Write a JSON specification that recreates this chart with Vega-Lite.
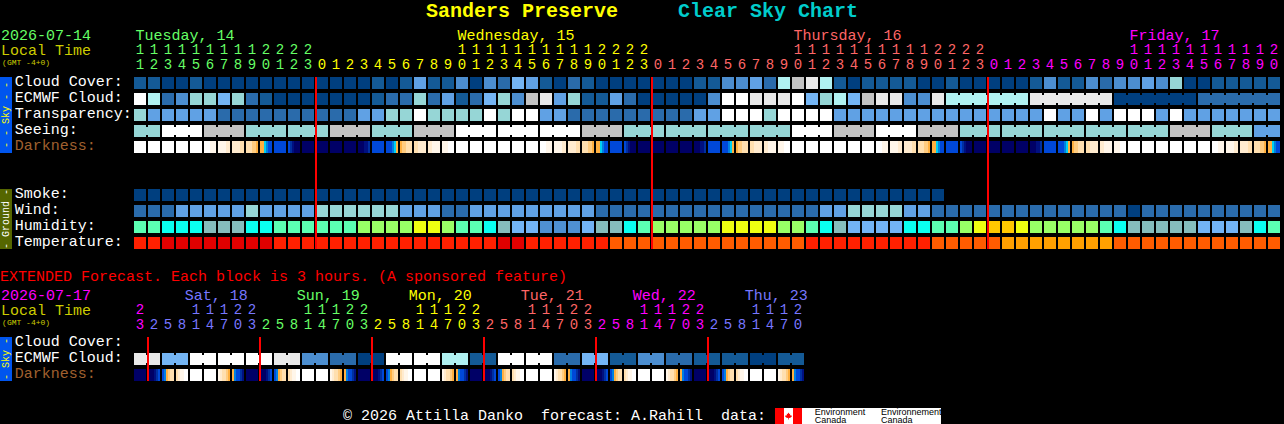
{
"$schema":"https://vega.github.io/schema/vega-lite/v6.json",
"description":"Clear Sky Chart for Sanders Preserve",
"width":1284,"height":424,"padding":0,"autosize":{"type":"none"},"background":"#000000",
"config":{"view":{"stroke":null},"legend":{"disable":true}},
"datasets":{
"hourly":[
{"col":0,"tens":"1","ones":"1","day":14,"cloud":1,"ecmwf":10,"transparency":6,"seeing":6,"smoke":0,"wind":2,"humidity":30,"temperature":41,"darkness":50},
{"col":1,"tens":"1","ones":"2","day":14,"cloud":1,"ecmwf":7,"transparency":4,"seeing":6,"smoke":0,"wind":2,"humidity":30,"temperature":41,"darkness":50},
{"col":2,"tens":"1","ones":"3","day":14,"cloud":0,"ecmwf":2,"transparency":4,"seeing":10,"smoke":0,"wind":2,"humidity":31,"temperature":40,"darkness":50},
{"col":3,"tens":"1","ones":"4","day":14,"cloud":0,"ecmwf":3,"transparency":4,"seeing":10,"smoke":0,"wind":4,"humidity":31,"temperature":40,"darkness":50},
{"col":4,"tens":"1","ones":"5","day":14,"cloud":1,"ecmwf":6,"transparency":4,"seeing":10,"smoke":0,"wind":4,"humidity":31,"temperature":40,"darkness":50},
{"col":5,"tens":"1","ones":"6","day":14,"cloud":0,"ecmwf":6,"transparency":4,"seeing":8,"smoke":0,"wind":4,"humidity":32,"temperature":40,"darkness":50},
{"col":6,"tens":"1","ones":"7","day":14,"cloud":0,"ecmwf":5,"transparency":2,"seeing":8,"smoke":0,"wind":4,"humidity":32,"temperature":40,"darkness":50},
{"col":7,"tens":"1","ones":"8","day":14,"cloud":0,"ecmwf":6,"transparency":2,"seeing":8,"smoke":0,"wind":4,"humidity":32,"temperature":40,"darkness":50},
{"col":8,"tens":"1","ones":"9","day":14,"cloud":0,"ecmwf":2,"transparency":2,"seeing":6,"smoke":0,"wind":6,"humidity":31,"temperature":40,"darkness":50},
{"col":9,"tens":"2","ones":"0","day":14,"cloud":0,"ecmwf":1,"transparency":2,"seeing":6,"smoke":0,"wind":4,"humidity":31,"temperature":40,"darkness":50},
{"col":10,"tens":"2","ones":"1","day":14,"cloud":0,"ecmwf":0,"transparency":2,"seeing":6,"smoke":0,"wind":4,"humidity":30,"temperature":41,"darkness":58},
{"col":11,"tens":"2","ones":"2","day":14,"cloud":0,"ecmwf":0,"transparency":2,"seeing":6,"smoke":0,"wind":4,"humidity":30,"temperature":41,"darkness":61},
{"col":12,"tens":"2","ones":"3","day":14,"cloud":0,"ecmwf":0,"transparency":2,"seeing":6,"smoke":0,"wind":4,"humidity":30,"temperature":41,"darkness":61},
{"col":13,"tens":"","ones":"0","day":15,"cloud":0,"ecmwf":0,"transparency":2,"seeing":6,"smoke":0,"wind":6,"humidity":30,"temperature":41,"darkness":61},
{"col":14,"tens":"","ones":"1","day":15,"cloud":0,"ecmwf":0,"transparency":2,"seeing":8,"smoke":0,"wind":6,"humidity":30,"temperature":41,"darkness":61},
{"col":15,"tens":"","ones":"2","day":15,"cloud":0,"ecmwf":0,"transparency":2,"seeing":8,"smoke":0,"wind":6,"humidity":30,"temperature":41,"darkness":61},
{"col":16,"tens":"","ones":"3","day":15,"cloud":0,"ecmwf":0,"transparency":4,"seeing":8,"smoke":0,"wind":6,"humidity":35,"temperature":41,"darkness":61},
{"col":17,"tens":"","ones":"4","day":15,"cloud":1,"ecmwf":1,"transparency":4,"seeing":6,"smoke":0,"wind":6,"humidity":35,"temperature":41,"darkness":58},
{"col":18,"tens":"","ones":"5","day":15,"cloud":0,"ecmwf":2,"transparency":6,"seeing":6,"smoke":0,"wind":6,"humidity":35,"temperature":41,"darkness":50},
{"col":19,"tens":"","ones":"6","day":15,"cloud":1,"ecmwf":2,"transparency":6,"seeing":6,"smoke":0,"wind":4,"humidity":35,"temperature":41,"darkness":50},
{"col":20,"tens":"","ones":"7","day":15,"cloud":4,"ecmwf":6,"transparency":10,"seeing":8,"smoke":0,"wind":4,"humidity":36,"temperature":41,"darkness":50},
{"col":21,"tens":"","ones":"8","day":15,"cloud":1,"ecmwf":2,"transparency":6,"seeing":8,"smoke":0,"wind":4,"humidity":36,"temperature":41,"darkness":50},
{"col":22,"tens":"","ones":"9","day":15,"cloud":1,"ecmwf":4,"transparency":6,"seeing":8,"smoke":0,"wind":2,"humidity":35,"temperature":41,"darkness":50},
{"col":23,"tens":"1","ones":"0","day":15,"cloud":3,"ecmwf":1,"transparency":6,"seeing":10,"smoke":0,"wind":2,"humidity":30,"temperature":41,"darkness":50},
{"col":24,"tens":"1","ones":"1","day":15,"cloud":0,"ecmwf":2,"transparency":6,"seeing":10,"smoke":0,"wind":4,"humidity":30,"temperature":41,"darkness":50},
{"col":25,"tens":"1","ones":"2","day":15,"cloud":3,"ecmwf":5,"transparency":10,"seeing":10,"smoke":0,"wind":4,"humidity":31,"temperature":41,"darkness":50},
{"col":26,"tens":"1","ones":"3","day":15,"cloud":2,"ecmwf":6,"transparency":6,"seeing":10,"smoke":0,"wind":4,"humidity":32,"temperature":40,"darkness":50},
{"col":27,"tens":"1","ones":"4","day":15,"cloud":5,"ecmwf":3,"transparency":10,"seeing":10,"smoke":0,"wind":4,"humidity":33,"temperature":40,"darkness":50},
{"col":28,"tens":"1","ones":"5","day":15,"cloud":4,"ecmwf":8,"transparency":10,"seeing":10,"smoke":0,"wind":4,"humidity":33,"temperature":41,"darkness":50},
{"col":29,"tens":"1","ones":"6","day":15,"cloud":1,"ecmwf":9,"transparency":4,"seeing":10,"smoke":0,"wind":4,"humidity":34,"temperature":41,"darkness":50},
{"col":30,"tens":"1","ones":"7","day":15,"cloud":0,"ecmwf":4,"transparency":4,"seeing":10,"smoke":0,"wind":4,"humidity":34,"temperature":41,"darkness":50},
{"col":31,"tens":"1","ones":"8","day":15,"cloud":2,"ecmwf":6,"transparency":2,"seeing":10,"smoke":0,"wind":4,"humidity":34,"temperature":41,"darkness":50},
{"col":32,"tens":"1","ones":"9","day":15,"cloud":1,"ecmwf":1,"transparency":2,"seeing":8,"smoke":0,"wind":4,"humidity":33,"temperature":41,"darkness":50},
{"col":33,"tens":"2","ones":"0","day":15,"cloud":0,"ecmwf":1,"transparency":2,"seeing":8,"smoke":0,"wind":2,"humidity":32,"temperature":41,"darkness":50},
{"col":34,"tens":"2","ones":"1","day":15,"cloud":0,"ecmwf":4,"transparency":2,"seeing":8,"smoke":0,"wind":2,"humidity":32,"temperature":42,"darkness":58},
{"col":35,"tens":"2","ones":"2","day":15,"cloud":0,"ecmwf":2,"transparency":2,"seeing":6,"smoke":0,"wind":2,"humidity":31,"temperature":42,"darkness":61},
{"col":36,"tens":"2","ones":"3","day":15,"cloud":0,"ecmwf":0,"transparency":2,"seeing":6,"smoke":0,"wind":2,"humidity":30,"temperature":42,"darkness":61},
{"col":37,"tens":"","ones":"0","day":16,"cloud":0,"ecmwf":0,"transparency":2,"seeing":6,"smoke":0,"wind":2,"humidity":35,"temperature":42,"darkness":61},
{"col":38,"tens":"","ones":"1","day":16,"cloud":0,"ecmwf":0,"transparency":2,"seeing":6,"smoke":0,"wind":2,"humidity":35,"temperature":42,"darkness":61},
{"col":39,"tens":"","ones":"2","day":16,"cloud":0,"ecmwf":0,"transparency":2,"seeing":6,"smoke":0,"wind":2,"humidity":35,"temperature":42,"darkness":61},
{"col":40,"tens":"","ones":"3","day":16,"cloud":1,"ecmwf":0,"transparency":4,"seeing":6,"smoke":0,"wind":2,"humidity":35,"temperature":42,"darkness":61},
{"col":41,"tens":"","ones":"4","day":16,"cloud":1,"ecmwf":3,"transparency":4,"seeing":6,"smoke":0,"wind":2,"humidity":35,"temperature":42,"darkness":58},
{"col":42,"tens":"","ones":"5","day":16,"cloud":3,"ecmwf":10,"transparency":10,"seeing":6,"smoke":0,"wind":2,"humidity":36,"temperature":42,"darkness":50},
{"col":43,"tens":"","ones":"6","day":16,"cloud":3,"ecmwf":10,"transparency":10,"seeing":6,"smoke":0,"wind":2,"humidity":36,"temperature":42,"darkness":50},
{"col":44,"tens":"","ones":"7","day":16,"cloud":4,"ecmwf":9,"transparency":10,"seeing":6,"smoke":0,"wind":2,"humidity":36,"temperature":42,"darkness":50},
{"col":45,"tens":"","ones":"8","day":16,"cloud":2,"ecmwf":9,"transparency":6,"seeing":6,"smoke":0,"wind":2,"humidity":36,"temperature":42,"darkness":50},
{"col":46,"tens":"","ones":"9","day":16,"cloud":7,"ecmwf":9,"transparency":10,"seeing":6,"smoke":0,"wind":2,"humidity":35,"temperature":42,"darkness":50},
{"col":47,"tens":"1","ones":"0","day":16,"cloud":8,"ecmwf":10,"transparency":10,"seeing":10,"smoke":0,"wind":2,"humidity":35,"temperature":42,"darkness":50},
{"col":48,"tens":"1","ones":"1","day":16,"cloud":9,"ecmwf":5,"transparency":10,"seeing":10,"smoke":0,"wind":2,"humidity":30,"temperature":41,"darkness":50},
{"col":49,"tens":"1","ones":"2","day":16,"cloud":7,"ecmwf":6,"transparency":10,"seeing":10,"smoke":0,"wind":4,"humidity":31,"temperature":41,"darkness":50},
{"col":50,"tens":"1","ones":"3","day":16,"cloud":1,"ecmwf":7,"transparency":4,"seeing":8,"smoke":0,"wind":4,"humidity":32,"temperature":41,"darkness":50},
{"col":51,"tens":"1","ones":"4","day":16,"cloud":0,"ecmwf":5,"transparency":4,"seeing":8,"smoke":0,"wind":6,"humidity":33,"temperature":41,"darkness":50},
{"col":52,"tens":"1","ones":"5","day":16,"cloud":1,"ecmwf":8,"transparency":4,"seeing":8,"smoke":0,"wind":6,"humidity":33,"temperature":41,"darkness":50},
{"col":53,"tens":"1","ones":"6","day":16,"cloud":1,"ecmwf":9,"transparency":4,"seeing":10,"smoke":0,"wind":6,"humidity":33,"temperature":41,"darkness":50},
{"col":54,"tens":"1","ones":"7","day":16,"cloud":1,"ecmwf":9,"transparency":4,"seeing":10,"smoke":0,"wind":6,"humidity":33,"temperature":41,"darkness":50},
{"col":55,"tens":"1","ones":"8","day":16,"cloud":1,"ecmwf":3,"transparency":4,"seeing":10,"smoke":0,"wind":4,"humidity":31,"temperature":41,"darkness":50},
{"col":56,"tens":"1","ones":"9","day":16,"cloud":0,"ecmwf":3,"transparency":4,"seeing":8,"smoke":0,"wind":4,"humidity":31,"temperature":41,"darkness":50},
{"col":57,"tens":"2","ones":"0","day":16,"cloud":0,"ecmwf":9,"transparency":4,"seeing":8,"smoke":0,"wind":2,"humidity":30,"temperature":42,"darkness":50},
{"col":58,"tens":"2","ones":"1","day":16,"cloud":1,"ecmwf":7,"transparency":4,"seeing":8,"wind":2,"humidity":30,"temperature":42,"darkness":58},
{"col":59,"tens":"2","ones":"2","day":16,"cloud":0,"ecmwf":7,"transparency":4,"seeing":6,"wind":2,"humidity":35,"temperature":42,"darkness":61},
{"col":60,"tens":"2","ones":"3","day":16,"cloud":0,"ecmwf":7,"transparency":4,"seeing":6,"wind":2,"humidity":36,"temperature":42,"darkness":61},
{"col":61,"tens":"","ones":"0","day":17,"cloud":0,"ecmwf":7,"transparency":4,"seeing":6,"wind":2,"humidity":37,"temperature":42,"darkness":61},
{"col":62,"tens":"","ones":"1","day":17,"cloud":0,"ecmwf":7,"transparency":4,"seeing":6,"wind":2,"humidity":37,"temperature":43,"darkness":61},
{"col":63,"tens":"","ones":"2","day":17,"cloud":0,"ecmwf":7,"transparency":4,"seeing":6,"wind":2,"humidity":36,"temperature":43,"darkness":61},
{"col":64,"tens":"","ones":"3","day":17,"cloud":1,"ecmwf":9,"transparency":4,"seeing":6,"wind":2,"humidity":35,"temperature":43,"darkness":61},
{"col":65,"tens":"","ones":"4","day":17,"cloud":3,"ecmwf":9,"transparency":10,"seeing":6,"wind":2,"humidity":35,"temperature":43,"darkness":58},
{"col":66,"tens":"","ones":"5","day":17,"cloud":1,"ecmwf":9,"transparency":4,"seeing":6,"wind":2,"humidity":35,"temperature":43,"darkness":50},
{"col":67,"tens":"","ones":"6","day":17,"cloud":1,"ecmwf":9,"transparency":4,"seeing":6,"wind":2,"humidity":35,"temperature":43,"darkness":50},
{"col":68,"tens":"","ones":"7","day":17,"cloud":3,"ecmwf":9,"transparency":10,"seeing":6,"wind":2,"humidity":35,"temperature":43,"darkness":50},
{"col":69,"tens":"","ones":"8","day":17,"cloud":2,"ecmwf":9,"transparency":4,"seeing":6,"wind":2,"humidity":30,"temperature":43,"darkness":50},
{"col":70,"tens":"","ones":"9","day":17,"cloud":3,"ecmwf":0,"transparency":10,"seeing":6,"wind":2,"humidity":31,"temperature":42,"darkness":50},
{"col":71,"tens":"1","ones":"0","day":17,"cloud":3,"ecmwf":0,"transparency":10,"seeing":6,"wind":0,"humidity":32,"temperature":42,"darkness":50},
{"col":72,"tens":"1","ones":"1","day":17,"cloud":4,"ecmwf":0,"transparency":10,"seeing":6,"wind":2,"humidity":32,"temperature":42,"darkness":50},
{"col":73,"tens":"1","ones":"2","day":17,"cloud":3,"ecmwf":0,"transparency":4,"seeing":6,"wind":2,"humidity":32,"temperature":42,"darkness":50},
{"col":74,"tens":"1","ones":"3","day":17,"cloud":6,"ecmwf":0,"transparency":10,"seeing":8,"wind":2,"humidity":32,"temperature":42,"darkness":50},
{"col":75,"tens":"1","ones":"4","day":17,"cloud":0,"ecmwf":0,"transparency":4,"seeing":8,"wind":2,"humidity":32,"temperature":42,"darkness":50},
{"col":76,"tens":"1","ones":"5","day":17,"cloud":0,"ecmwf":2,"transparency":4,"seeing":8,"wind":2,"humidity":33,"temperature":42,"darkness":50},
{"col":77,"tens":"1","ones":"6","day":17,"cloud":1,"ecmwf":2,"transparency":4,"seeing":6,"wind":2,"humidity":33,"temperature":42,"darkness":50},
{"col":78,"tens":"1","ones":"7","day":17,"cloud":1,"ecmwf":2,"transparency":4,"seeing":6,"wind":2,"humidity":33,"temperature":42,"darkness":50},
{"col":79,"tens":"1","ones":"8","day":17,"cloud":1,"ecmwf":2,"transparency":4,"seeing":6,"wind":2,"humidity":32,"temperature":42,"darkness":50},
{"col":80,"tens":"1","ones":"9","day":17,"cloud":1,"ecmwf":2,"transparency":4,"seeing":4,"wind":2,"humidity":31,"temperature":42,"darkness":50},
{"col":81,"tens":"2","ones":"0","day":17,"cloud":1,"ecmwf":2,"transparency":4,"seeing":4,"wind":2,"humidity":30,"temperature":42,"darkness":50}
],
"extended":[
{"col":0,"tens":"2","ones":"3","day":17,"ecmwf":9,"darkness":61},{"col":1,"tens":"","ones":"2","day":18,"ecmwf":9,"darkness":61},
{"col":2,"tens":"","ones":"5","day":18,"ecmwf":5,"darkness":50},{"col":3,"tens":"","ones":"8","day":18,"ecmwf":5,"darkness":50},
{"col":4,"tens":"1","ones":"1","day":18,"ecmwf":10,"darkness":50},{"col":5,"tens":"1","ones":"4","day":18,"ecmwf":10,"darkness":50},
{"col":6,"tens":"1","ones":"7","day":18,"ecmwf":10,"darkness":50},{"col":7,"tens":"2","ones":"0","day":18,"ecmwf":10,"darkness":50},
{"col":8,"tens":"2","ones":"3","day":18,"ecmwf":10,"darkness":61},{"col":9,"tens":"","ones":"2","day":19,"ecmwf":10,"darkness":61},
{"col":10,"tens":"","ones":"5","day":19,"ecmwf":9,"darkness":50},{"col":11,"tens":"","ones":"8","day":19,"ecmwf":9,"darkness":50},
{"col":12,"tens":"1","ones":"1","day":19,"ecmwf":3,"darkness":50},{"col":13,"tens":"1","ones":"4","day":19,"ecmwf":3,"darkness":50},
{"col":14,"tens":"1","ones":"7","day":19,"ecmwf":2,"darkness":50},{"col":15,"tens":"2","ones":"0","day":19,"ecmwf":2,"darkness":50},
{"col":16,"tens":"2","ones":"3","day":19,"ecmwf":0,"darkness":61},{"col":17,"tens":"","ones":"2","day":20,"ecmwf":0,"darkness":61},
{"col":18,"tens":"","ones":"5","day":20,"ecmwf":10,"darkness":50},{"col":19,"tens":"","ones":"8","day":20,"ecmwf":10,"darkness":50},
{"col":20,"tens":"1","ones":"1","day":20,"ecmwf":10,"darkness":50},{"col":21,"tens":"1","ones":"4","day":20,"ecmwf":10,"darkness":50},
{"col":22,"tens":"1","ones":"7","day":20,"ecmwf":7,"darkness":50},{"col":23,"tens":"2","ones":"0","day":20,"ecmwf":7,"darkness":50},
{"col":24,"tens":"2","ones":"3","day":20,"ecmwf":1,"darkness":61},{"col":25,"tens":"","ones":"2","day":21,"ecmwf":1,"darkness":61},
{"col":26,"tens":"","ones":"5","day":21,"ecmwf":10,"darkness":50},{"col":27,"tens":"","ones":"8","day":21,"ecmwf":10,"darkness":50},
{"col":28,"tens":"1","ones":"1","day":21,"ecmwf":10,"darkness":50},{"col":29,"tens":"1","ones":"4","day":21,"ecmwf":10,"darkness":50},
{"col":30,"tens":"1","ones":"7","day":21,"ecmwf":2,"darkness":50},{"col":31,"tens":"2","ones":"0","day":21,"ecmwf":2,"darkness":50},
{"col":32,"tens":"2","ones":"3","day":21,"ecmwf":5,"darkness":61},{"col":33,"tens":"","ones":"2","day":22,"ecmwf":5,"darkness":61},
{"col":34,"tens":"","ones":"5","day":22,"ecmwf":1,"darkness":50},{"col":35,"tens":"","ones":"8","day":22,"ecmwf":1,"darkness":50},
{"col":36,"tens":"1","ones":"1","day":22,"ecmwf":3,"darkness":50},{"col":37,"tens":"1","ones":"4","day":22,"ecmwf":3,"darkness":50},
{"col":38,"tens":"1","ones":"7","day":22,"ecmwf":2,"darkness":50},{"col":39,"tens":"2","ones":"0","day":22,"ecmwf":2,"darkness":50},
{"col":40,"tens":"2","ones":"3","day":22,"ecmwf":1,"darkness":61},{"col":41,"tens":"","ones":"2","day":23,"ecmwf":1,"darkness":61},
{"col":42,"tens":"","ones":"5","day":23,"ecmwf":1,"darkness":50},{"col":43,"tens":"","ones":"8","day":23,"ecmwf":1,"darkness":50},
{"col":44,"tens":"1","ones":"1","day":23,"ecmwf":0,"darkness":50},{"col":45,"tens":"1","ones":"4","day":23,"ecmwf":0,"darkness":50},
{"col":46,"tens":"1","ones":"7","day":23,"ecmwf":1,"darkness":50},{"col":47,"tens":"2","ones":"0","day":23,"ecmwf":1,"darkness":50}
],
"strips":[
{"row":4,"col":5,"s0":50,"s1":50,"s2":50,"s3":51,"s4":51,"s5":51},{"row":4,"col":6,"s0":51,"s1":51,"s2":51,"s3":51,"s4":52,"s5":52},
{"row":4,"col":7,"s0":52,"s1":52,"s2":52,"s3":52,"s4":53,"s5":53},{"row":4,"col":8,"s0":53,"s1":53,"s2":53,"s3":54,"s4":54,"s5":55},
{"row":4,"col":9,"s0":55,"s1":55,"s2":56,"s3":57,"s4":58,"s5":58},{"row":4,"col":11,"s0":58,"s1":59,"s2":60,"s3":61,"s4":61,"s5":61},
{"row":4,"col":16,"s0":61,"s1":61,"s2":61,"s3":60,"s4":60,"s5":59},{"row":4,"col":18,"s0":58,"s1":58,"s2":58,"s3":57,"s4":56,"s5":55},
{"row":4,"col":19,"s0":55,"s1":54,"s2":54,"s3":53,"s4":53,"s5":53},{"row":4,"col":20,"s0":53,"s1":53,"s2":52,"s3":52,"s4":52,"s5":52},
{"row":4,"col":21,"s0":52,"s1":52,"s2":51,"s3":51,"s4":51,"s5":51},{"row":4,"col":22,"s0":51,"s1":51,"s2":51,"s3":50,"s4":50,"s5":50},
{"row":4,"col":29,"s0":50,"s1":50,"s2":50,"s3":51,"s4":51,"s5":51},{"row":4,"col":30,"s0":51,"s1":51,"s2":51,"s3":51,"s4":52,"s5":52},
{"row":4,"col":31,"s0":52,"s1":52,"s2":52,"s3":52,"s4":53,"s5":53},{"row":4,"col":32,"s0":53,"s1":53,"s2":53,"s3":54,"s4":54,"s5":55},
{"row":4,"col":33,"s0":55,"s1":55,"s2":56,"s3":57,"s4":58,"s5":58},{"row":4,"col":35,"s0":58,"s1":59,"s2":60,"s3":61,"s4":61,"s5":61},
{"row":4,"col":40,"s0":61,"s1":61,"s2":61,"s3":60,"s4":60,"s5":59},{"row":4,"col":42,"s0":58,"s1":58,"s2":58,"s3":57,"s4":56,"s5":55},
{"row":4,"col":43,"s0":55,"s1":54,"s2":54,"s3":53,"s4":53,"s5":53},{"row":4,"col":44,"s0":53,"s1":53,"s2":52,"s3":52,"s4":52,"s5":52},
{"row":4,"col":45,"s0":52,"s1":52,"s2":51,"s3":51,"s4":51,"s5":51},{"row":4,"col":46,"s0":51,"s1":51,"s2":51,"s3":50,"s4":50,"s5":50},
{"row":4,"col":53,"s0":50,"s1":50,"s2":50,"s3":51,"s4":51,"s5":51},{"row":4,"col":54,"s0":51,"s1":51,"s2":51,"s3":51,"s4":52,"s5":52},
{"row":4,"col":55,"s0":52,"s1":52,"s2":52,"s3":52,"s4":53,"s5":53},{"row":4,"col":56,"s0":53,"s1":53,"s2":53,"s3":54,"s4":54,"s5":55},
{"row":4,"col":57,"s0":55,"s1":55,"s2":56,"s3":57,"s4":58,"s5":58},{"row":4,"col":59,"s0":58,"s1":59,"s2":60,"s3":61,"s4":61,"s5":61},
{"row":4,"col":64,"s0":61,"s1":61,"s2":61,"s3":60,"s4":60,"s5":59},{"row":4,"col":66,"s0":58,"s1":58,"s2":58,"s3":57,"s4":56,"s5":55},
{"row":4,"col":67,"s0":55,"s1":54,"s2":54,"s3":53,"s4":53,"s5":53},{"row":4,"col":68,"s0":53,"s1":53,"s2":52,"s3":52,"s4":52,"s5":52},
{"row":4,"col":69,"s0":52,"s1":52,"s2":51,"s3":51,"s4":51,"s5":51},{"row":4,"col":70,"s0":51,"s1":51,"s2":51,"s3":50,"s4":50,"s5":50},
{"row":4,"col":77,"s0":50,"s1":50,"s2":50,"s3":51,"s4":51,"s5":51},{"row":4,"col":78,"s0":51,"s1":51,"s2":51,"s3":51,"s4":52,"s5":52},
{"row":4,"col":79,"s0":52,"s1":52,"s2":52,"s3":52,"s4":53,"s5":53},{"row":4,"col":80,"s0":53,"s1":53,"s2":53,"s3":54,"s4":54,"s5":55},
{"row":4,"col":81,"s0":55,"s1":55,"s2":56,"s3":57,"s4":58,"s5":58},
{"row":18.25,"col":1,"s0":61,"s1":61,"s2":61,"s3":60,"s4":59,"s5":58},{"row":18.25,"col":2,"s0":58,"s1":57,"s2":55,"s3":54,"s4":53,"s5":53},{"row":18.25,"col":3,"s0":53,"s1":52,"s2":51,"s3":51,"s4":50,"s5":50},{"row":18.25,"col":6,"s0":51,"s1":52,"s2":53,"s3":53,"s4":54,"s5":55},{"row":18.25,"col":7,"s0":55,"s1":57,"s2":58,"s3":58,"s4":59,"s5":60},
{"row":18.25,"col":9,"s0":61,"s1":61,"s2":61,"s3":60,"s4":59,"s5":58},{"row":18.25,"col":10,"s0":58,"s1":57,"s2":55,"s3":54,"s4":53,"s5":53},{"row":18.25,"col":11,"s0":53,"s1":52,"s2":51,"s3":51,"s4":50,"s5":50},{"row":18.25,"col":14,"s0":51,"s1":52,"s2":53,"s3":53,"s4":54,"s5":55},{"row":18.25,"col":15,"s0":55,"s1":57,"s2":58,"s3":58,"s4":59,"s5":60},
{"row":18.25,"col":17,"s0":61,"s1":61,"s2":61,"s3":60,"s4":59,"s5":58},{"row":18.25,"col":18,"s0":58,"s1":57,"s2":55,"s3":54,"s4":53,"s5":53},{"row":18.25,"col":19,"s0":53,"s1":52,"s2":51,"s3":51,"s4":50,"s5":50},{"row":18.25,"col":22,"s0":51,"s1":52,"s2":53,"s3":53,"s4":54,"s5":55},{"row":18.25,"col":23,"s0":55,"s1":57,"s2":58,"s3":58,"s4":59,"s5":60},
{"row":18.25,"col":25,"s0":61,"s1":61,"s2":61,"s3":60,"s4":59,"s5":58},{"row":18.25,"col":26,"s0":58,"s1":57,"s2":55,"s3":54,"s4":53,"s5":53},{"row":18.25,"col":27,"s0":53,"s1":52,"s2":51,"s3":51,"s4":50,"s5":50},{"row":18.25,"col":30,"s0":51,"s1":52,"s2":53,"s3":53,"s4":54,"s5":55},{"row":18.25,"col":31,"s0":55,"s1":57,"s2":58,"s3":58,"s4":59,"s5":60},
{"row":18.25,"col":33,"s0":61,"s1":61,"s2":61,"s3":60,"s4":59,"s5":58},{"row":18.25,"col":34,"s0":58,"s1":57,"s2":55,"s3":54,"s4":53,"s5":53},{"row":18.25,"col":35,"s0":53,"s1":52,"s2":51,"s3":51,"s4":50,"s5":50},{"row":18.25,"col":38,"s0":51,"s1":52,"s2":53,"s3":53,"s4":54,"s5":55},{"row":18.25,"col":39,"s0":55,"s1":57,"s2":58,"s3":58,"s4":59,"s5":60},
{"row":18.25,"col":41,"s0":61,"s1":61,"s2":61,"s3":60,"s4":59,"s5":58},{"row":18.25,"col":42,"s0":58,"s1":57,"s2":55,"s3":54,"s4":53,"s5":53},{"row":18.25,"col":43,"s0":53,"s1":52,"s2":51,"s3":51,"s4":50,"s5":50},{"row":18.25,"col":46,"s0":51,"s1":52,"s2":53,"s3":53,"s4":54,"s5":55},{"row":18.25,"col":47,"s0":55,"s1":57,"s2":58,"s3":58,"s4":59,"s5":60}
],
"joins":[
{"row":3,"col":0.5,"level":6},{"row":3,"col":2.5,"level":10},{"row":3,"col":3.5,"level":10},{"row":3,"col":5.5,"level":8},{"row":3,"col":6.5,"level":8},{"row":3,"col":8.5,"level":6},{"row":3,"col":9.5,"level":6},{"row":3,"col":11.5,"level":6},{"row":3,"col":12.5,"level":6},{"row":3,"col":14.5,"level":8},{"row":3,"col":15.5,"level":8},{"row":3,"col":17.5,"level":6},{"row":3,"col":18.5,"level":6},{"row":3,"col":20.5,"level":8},{"row":3,"col":21.5,"level":8},{"row":3,"col":23.5,"level":10},{"row":3,"col":24.5,"level":10},{"row":3,"col":26.5,"level":10},{"row":3,"col":27.5,"level":10},{"row":3,"col":29.5,"level":10},{"row":3,"col":30.5,"level":10},{"row":3,"col":32.5,"level":8},{"row":3,"col":33.5,"level":8},{"row":3,"col":35.5,"level":6},{"row":3,"col":36.5,"level":6},{"row":3,"col":38.5,"level":6},{"row":3,"col":39.5,"level":6},{"row":3,"col":41.5,"level":6},{"row":3,"col":42.5,"level":6},{"row":3,"col":44.5,"level":6},{"row":3,"col":45.5,"level":6},{"row":3,"col":47.5,"level":10},{"row":3,"col":48.5,"level":10},{"row":3,"col":50.5,"level":8},{"row":3,"col":51.5,"level":8},{"row":3,"col":53.5,"level":10},{"row":3,"col":54.5,"level":10},{"row":3,"col":56.5,"level":8},{"row":3,"col":57.5,"level":8},{"row":3,"col":59.5,"level":6},{"row":3,"col":60.5,"level":6},{"row":3,"col":62.5,"level":6},{"row":3,"col":63.5,"level":6},{"row":3,"col":65.5,"level":6},{"row":3,"col":66.5,"level":6},{"row":3,"col":68.5,"level":6},{"row":3,"col":69.5,"level":6},{"row":3,"col":71.5,"level":6},{"row":3,"col":72.5,"level":6},{"row":3,"col":74.5,"level":8},{"row":3,"col":75.5,"level":8},{"row":3,"col":77.5,"level":6},{"row":3,"col":78.5,"level":6},{"row":3,"col":80.5,"level":4},
{"row":1,"col":58.5,"level":7},{"row":1,"col":59.5,"level":7},{"row":1,"col":60.5,"level":7},{"row":1,"col":61.5,"level":7},{"row":1,"col":62.5,"level":7},{"row":1,"col":64.5,"level":9},{"row":1,"col":65.5,"level":9},{"row":1,"col":66.5,"level":9},{"row":1,"col":67.5,"level":9},{"row":1,"col":68.5,"level":9},{"row":1,"col":70.5,"level":0},{"row":1,"col":71.5,"level":0},{"row":1,"col":72.5,"level":0},{"row":1,"col":73.5,"level":0},{"row":1,"col":74.5,"level":0},{"row":1,"col":76.5,"level":2},{"row":1,"col":77.5,"level":2},{"row":1,"col":78.5,"level":2},{"row":1,"col":79.5,"level":2},{"row":1,"col":80.5,"level":2},
{"row":17.25,"col":0.5,"level":9},{"row":17.25,"col":2.5,"level":5},{"row":17.25,"col":4.5,"level":10},{"row":17.25,"col":6.5,"level":10},{"row":17.25,"col":8.5,"level":10},{"row":17.25,"col":10.5,"level":9},{"row":17.25,"col":12.5,"level":3},{"row":17.25,"col":14.5,"level":2},{"row":17.25,"col":16.5,"level":0},{"row":17.25,"col":18.5,"level":10},{"row":17.25,"col":20.5,"level":10},{"row":17.25,"col":22.5,"level":7},{"row":17.25,"col":24.5,"level":1},{"row":17.25,"col":26.5,"level":10},{"row":17.25,"col":28.5,"level":10},{"row":17.25,"col":30.5,"level":2},{"row":17.25,"col":32.5,"level":5},{"row":17.25,"col":34.5,"level":1},{"row":17.25,"col":36.5,"level":3},{"row":17.25,"col":38.5,"level":2},{"row":17.25,"col":40.5,"level":1},{"row":17.25,"col":42.5,"level":1},{"row":17.25,"col":44.5,"level":0},{"row":17.25,"col":46.5,"level":1}
],
"midnights":[
{"col":12.57,"top":-0.375,"bottom":10.375},{"col":36.57,"top":-0.375,"bottom":10.375},{"col":60.57,"top":-0.375,"bottom":10.375},
{"col":0.57,"top":15.875,"bottom":18.625},{"col":8.57,"top":15.875,"bottom":18.625},{"col":16.57,"top":15.875,"bottom":18.625},{"col":24.57,"top":15.875,"bottom":18.625},{"col":32.57,"top":15.875,"bottom":18.625},{"col":40.57,"top":15.875,"bottom":18.625}
],
"panels":[
{"start":-10,"end":-9.143,"top":-0.375,"bottom":4.375,"tone":"sky"},
{"start":-10,"end":-9.143,"top":6.625,"bottom":10.375,"tone":"ground"},
{"start":-10,"end":-9.143,"top":15.875,"bottom":18.625,"tone":"sky"},
{"start":45.357,"end":57.214,"top":20.3125,"bottom":21.3125,"tone":"label"},
{"start":45.357,"end":46,"top":20.3125,"bottom":21.3125,"tone":"notice"},
{"start":46.643,"end":47.286,"top":20.3125,"bottom":21.3125,"tone":"notice"}
],
"labels":[
{"text":"2026-07-14","col":-9.93,"row":-3,"tone":14},
{"text":"Local Time","col":-9.93,"row":-2.06,"tone":"local"},
{"text":"Tuesday, 14","col":-0.33,"row":-3,"tone":14},
{"text":"Wednesday, 15","col":22.67,"row":-3,"tone":15},
{"text":"Thursday, 16","col":46.67,"row":-3,"tone":16},
{"text":"Friday, 17","col":70.67,"row":-3,"tone":17},
{"text":"Cloud Cover:","col":-8.95,"row":-0.1,"tone":"label"},
{"text":"ECMWF Cloud:","col":-8.95,"row":0.9,"tone":"label"},
{"text":"Transparency:","col":-8.95,"row":1.9,"tone":"label"},
{"text":"Seeing:","col":-8.95,"row":2.9,"tone":"label"},
{"text":"Darkness:","col":-8.95,"row":3.9,"tone":"night"},
{"text":"Smoke:","col":-8.95,"row":6.9,"tone":"label"},
{"text":"Wind:","col":-8.95,"row":7.9,"tone":"label"},
{"text":"Humidity:","col":-8.95,"row":8.9,"tone":"label"},
{"text":"Temperature:","col":-8.95,"row":9.9,"tone":"label"},
{"text":"EXTENDED Forecast. Each block is 3 hours. (A sponsored feature)","col":-10,"row":12.06,"tone":"notice"},
{"text":"2026-07-17","col":-9.93,"row":13.25,"tone":17},
{"text":"Local Time","col":-9.93,"row":14.2,"tone":"local"},
{"text":"Sat, 18","col":3.2,"row":13.25,"tone":18},
{"text":"Sun, 19","col":11.2,"row":13.25,"tone":19},
{"text":"Mon, 20","col":19.2,"row":13.25,"tone":20},
{"text":"Tue, 21","col":27.2,"row":13.25,"tone":21},
{"text":"Wed, 22","col":35.2,"row":13.25,"tone":22},
{"text":"Thu, 23","col":43.2,"row":13.25,"tone":23},
{"text":"Cloud Cover:","col":-8.95,"row":16.15,"tone":"label"},
{"text":"ECMWF Cloud:","col":-8.95,"row":17.15,"tone":"label"},
{"text":"Darkness:","col":-8.95,"row":18.15,"tone":"night"},
{"text":"© 2026 Attilla Danko\u00a0\u00a0forecast: A.Rahill\u00a0\u00a0data:","col":14.5,"row":20.78,"tone":"label"}
],
"titles":[
{"text":"Sanders Preserve","col":20.43,"row":-4.5,"tone":"title"},
{"text":"Clear Sky Chart","col":38.43,"row":-4.5,"tone":"chart"}
],
"gmt":[
{"text":"(GMT -4+0)","col":-9.85,"row":-1.25},
{"text":"(GMT -4+0)","col":-9.85,"row":15}
],
"sidebars":[
{"text":"- - Sky - -","col":-9.571,"row":2,"tone":"title"},
{"text":"- Ground -","col":-9.571,"row":8.5,"tone":"label"},
{"text":"- Sky -","col":-9.571,"row":17.25,"tone":"title"}
],
"agency":[
{"text":"Environment","col":48.2,"row":20.56},{"text":"Canada","col":48.2,"row":21.06},
{"text":"Environnement","col":52.93,"row":20.56},{"text":"Canada","col":52.93,"row":21.06}
],
"leaf":[{"col":46.32,"row":20.81}]
},
"layer":[
{"data":{"name":"panels"},"mark":{"type":"rect"},"encoding":{
"x":{"field":"start","type":"quantitative","axis":null,"scale":{"domain":[-10,81.714286],"range":[0,1284],"nice":false,"zero":false}},
"x2":{"field":"end"},
"y":{"field":"top","type":"quantitative","axis":null,"scale":{"domain":[-5.1875,21.3125],"range":[0,424],"nice":false,"zero":false}},
"y2":{"field":"bottom"},
"color":{"field":"tone","type":"nominal","scale":{
"domain":[0,1,2,3,4,5,6,7,8,9,10,14,15,16,17,18,19,20,21,22,23,30,31,32,33,34,35,36,37,40,41,42,43,50,51,52,53,54,55,56,57,58,59,60,61,"label","local","night","notice","title","chart","sky","ground"],
"range":["#003F7F","#145A96","#2A6BAB","#4C8ED0","#60A1E4","#74B5F4","#96D6D6","#B0F1F1","#C3C3C3","#E9E9E9","#FFFFFF","#66FF66","#FFFF00","#FF6666","#FF00FF","#7777FF","#66FF66","#FFFF00","#FF6666","#FF00FF","#7777FF","#5BFFB2","#0AFFF0","#85BDBD","#72B3F5","#4F90D1","#98FF66","#EEFF11","#FFC800","#E00000","#FF2000","#FF5C00","#FFA000","#FFFFFF","#FFF6EA","#FFEBCF","#FFDFAF","#FFCC80","#FFB040","#00D0F0","#0080E0","#0048D8","#0030A0","#001080","#000066","#FFFFFF","#CCCC00","#A0602F","#FF0000","#FFFF00","#00CCCC","#0055EE","#556600"]}}}},
{"data":{"name":"hourly"},"mark":{"type":"rect","width":12,"height":12},"encoding":{"x":{"field":"col","type":"quantitative"},"y":{"datum":0},"color":{"field":"cloud","type":"nominal"}}},
{"data":{"name":"hourly"},"mark":{"type":"rect","width":12,"height":12},"encoding":{"x":{"field":"col","type":"quantitative"},"y":{"datum":1},"color":{"field":"ecmwf","type":"nominal"}}},
{"data":{"name":"hourly"},"mark":{"type":"rect","width":12,"height":12},"encoding":{"x":{"field":"col","type":"quantitative"},"y":{"datum":2},"color":{"field":"transparency","type":"nominal"}}},
{"data":{"name":"hourly"},"mark":{"type":"rect","width":12,"height":12},"encoding":{"x":{"field":"col","type":"quantitative"},"y":{"datum":3},"color":{"field":"seeing","type":"nominal"}}},
{"data":{"name":"hourly"},"mark":{"type":"rect","width":12,"height":12},"encoding":{"x":{"field":"col","type":"quantitative"},"y":{"datum":4},"color":{"field":"darkness","type":"nominal"}}},
{"data":{"name":"hourly"},"transform":[{"filter":"isValid(datum.smoke)"}],"mark":{"type":"rect","width":12,"height":12},"encoding":{"x":{"field":"col","type":"quantitative"},"y":{"datum":7},"color":{"field":"smoke","type":"nominal"}}},
{"data":{"name":"hourly"},"mark":{"type":"rect","width":12,"height":12},"encoding":{"x":{"field":"col","type":"quantitative"},"y":{"datum":8},"color":{"field":"wind","type":"nominal"}}},
{"data":{"name":"hourly"},"mark":{"type":"rect","width":12,"height":12},"encoding":{"x":{"field":"col","type":"quantitative"},"y":{"datum":9},"color":{"field":"humidity","type":"nominal"}}},
{"data":{"name":"hourly"},"mark":{"type":"rect","width":12,"height":12},"encoding":{"x":{"field":"col","type":"quantitative"},"y":{"datum":10},"color":{"field":"temperature","type":"nominal"}}},
{"data":{"name":"extended"},"mark":{"type":"rect","width":12,"height":12},"encoding":{"x":{"field":"col","type":"quantitative"},"y":{"datum":17.25},"color":{"field":"ecmwf","type":"nominal"}}},
{"data":{"name":"extended"},"mark":{"type":"rect","width":12,"height":12},"encoding":{"x":{"field":"col","type":"quantitative"},"y":{"datum":18.25},"color":{"field":"darkness","type":"nominal"}}},
{"data":{"name":"joins"},"mark":{"type":"rect","width":2,"height":8},"encoding":{"x":{"field":"col","type":"quantitative"},"y":{"field":"row","type":"quantitative"},"color":{"field":"level","type":"nominal"}}},
{"data":{"name":"strips"},"mark":{"type":"rect","width":2,"height":12,"xOffset":-5},"encoding":{"x":{"field":"col","type":"quantitative"},"y":{"field":"row","type":"quantitative"},"color":{"field":"s0","type":"nominal"}}},
{"data":{"name":"strips"},"mark":{"type":"rect","width":2,"height":12,"xOffset":-3},"encoding":{"x":{"field":"col","type":"quantitative"},"y":{"field":"row","type":"quantitative"},"color":{"field":"s1","type":"nominal"}}},
{"data":{"name":"strips"},"mark":{"type":"rect","width":2,"height":12,"xOffset":-1},"encoding":{"x":{"field":"col","type":"quantitative"},"y":{"field":"row","type":"quantitative"},"color":{"field":"s2","type":"nominal"}}},
{"data":{"name":"strips"},"mark":{"type":"rect","width":2,"height":12,"xOffset":1},"encoding":{"x":{"field":"col","type":"quantitative"},"y":{"field":"row","type":"quantitative"},"color":{"field":"s3","type":"nominal"}}},
{"data":{"name":"strips"},"mark":{"type":"rect","width":2,"height":12,"xOffset":3},"encoding":{"x":{"field":"col","type":"quantitative"},"y":{"field":"row","type":"quantitative"},"color":{"field":"s4","type":"nominal"}}},
{"data":{"name":"strips"},"mark":{"type":"rect","width":2,"height":12,"xOffset":5},"encoding":{"x":{"field":"col","type":"quantitative"},"y":{"field":"row","type":"quantitative"},"color":{"field":"s5","type":"nominal"}}},
{"data":{"name":"midnights"},"mark":{"type":"rule","size":2,"color":"#FF0000"},"encoding":{"x":{"field":"col","type":"quantitative"},"y":{"field":"top","type":"quantitative"},"y2":{"field":"bottom"}}},
{"data":{"name":"hourly"},"mark":{"type":"text","font":"Liberation Mono","fontSize":14},"encoding":{"x":{"field":"col","type":"quantitative"},"y":{"datum":-2.06},"text":{"field":"tens"},"color":{"field":"day","type":"nominal"}}},
{"data":{"name":"hourly"},"mark":{"type":"text","font":"Liberation Mono","fontSize":14},"encoding":{"x":{"field":"col","type":"quantitative"},"y":{"datum":-1.125},"text":{"field":"ones"},"color":{"field":"day","type":"nominal"}}},
{"data":{"name":"extended"},"mark":{"type":"text","font":"Liberation Mono","fontSize":14},"encoding":{"x":{"field":"col","type":"quantitative"},"y":{"datum":14.19},"text":{"field":"tens"},"color":{"field":"day","type":"nominal"}}},
{"data":{"name":"extended"},"mark":{"type":"text","font":"Liberation Mono","fontSize":14},"encoding":{"x":{"field":"col","type":"quantitative"},"y":{"datum":15.125},"text":{"field":"ones"},"color":{"field":"day","type":"nominal"}}},
{"data":{"name":"labels"},"mark":{"type":"text","font":"Liberation Mono","fontSize":15,"align":"left"},"encoding":{"x":{"field":"col","type":"quantitative"},"y":{"field":"row","type":"quantitative"},"text":{"field":"text"},"color":{"field":"tone","type":"nominal"}}},
{"data":{"name":"titles"},"mark":{"type":"text","font":"Liberation Mono","fontSize":20,"fontWeight":"bold","align":"left"},"encoding":{"x":{"field":"col","type":"quantitative"},"y":{"field":"row","type":"quantitative"},"text":{"field":"text"},"color":{"field":"tone","type":"nominal"}}},
{"data":{"name":"gmt"},"mark":{"type":"text","font":"Liberation Mono","fontSize":8,"align":"left","color":"#CCCC00"},"encoding":{"x":{"field":"col","type":"quantitative"},"y":{"field":"row","type":"quantitative"},"text":{"field":"text"}}},
{"data":{"name":"sidebars"},"mark":{"type":"text","font":"Liberation Mono","fontSize":10,"angle":270},"encoding":{"x":{"field":"col","type":"quantitative"},"y":{"field":"row","type":"quantitative"},"text":{"field":"text"},"color":{"field":"tone","type":"nominal"}}},
{"data":{"name":"agency"},"mark":{"type":"text","font":"Liberation Sans","fontSize":9,"align":"left","color":"#000000"},"encoding":{"x":{"field":"col","type":"quantitative"},"y":{"field":"row","type":"quantitative"},"text":{"field":"text"}}},
{"data":{"name":"leaf"},"mark":{"type":"point","filled":true,"opacity":1,"size":50,"color":"#FF0000","shape":"M0,-1L.25,-.55L.5,-.65L.4,-.15L.9,-.3L.75,0L1,.15L.4,.55L.1,.5V1H-.1V.5L-.4,.55L-1,.15L-.75,0L-.9,-.3L-.4,-.15L-.5,-.65L-.25,-.55Z"},"encoding":{"x":{"field":"col","type":"quantitative"},"y":{"field":"row","type":"quantitative"}}}
]
}
